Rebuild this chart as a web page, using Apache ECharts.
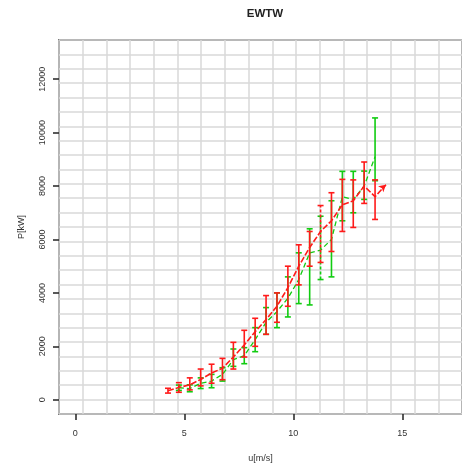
<!DOCTYPE html>
<html>
<head>
<meta charset="utf-8">
<script src="https://cdn.jsdelivr.net/npm/echarts@6/dist/echarts.min.js"></script>
<style>
html,body{margin:0;padding:0;background:#fff;}
#chart{width:462px;height:468px;}
</style>
</head>
<body>
<div id="chart"></div>
<script>
// ---- data ----
const titleText = 'EWTW';
const xName = 'u[m/s]';
const yName = 'P[kW]';
const xTicks = [0, 5, 10, 15];
const yTicks = [0, 2000, 4000, 6000, 8000, 10000, 12000];

const uRed = [4.25, 4.75, 5.25, 5.75, 6.25, 6.75, 7.25, 7.75, 8.25, 8.75, 9.25, 9.75, 10.25, 10.75, 11.25, 11.75, 12.25, 12.75, 13.25, 13.75, 14.25];
const redMean = [340, 460, 560, 760, 1000, 1180, 1600, 2050, 2550, 3000, 3500, 4200, 5000, 5700, 6300, 6700, 7300, 7450, 8000, 7600, 8050];
const redLow  = [250, 280, 370, 520, 620, 750, 1150, 1600, 2000, 2450, 2900, 3500, 4300, 5000, 5140, 5550, 6300, 6450, 7350, 6750, null];
const redHigh = [430, 640, 820, 1150, 1330, 1550, 2150, 2600, 3050, 3900, 4000, 5000, 5800, 6300, 7270, 7750, 8250, 8230, 8900, 8230, null];

const uGreen = [4.75, 5.25, 5.75, 6.25, 6.75, 7.25, 7.75, 8.25, 8.75, 9.25, 9.75, 10.25, 10.75, 11.25, 11.75, 12.25, 12.75, 13.25, 13.75];
const greenMean = [450, 420, 620, 700, 950, 1500, 1650, 2250, 2900, 3300, 3800, 4500, 5500, 5600, 6000, 7600, 7500, 8000, 9100];
const greenLow  = [350, 300, 420, 450, 700, 1250, 1350, 1800, 2450, 2700, 3100, 3600, 3550, 4500, 4600, 6700, 7000, 7500, 8200];
const greenHigh = [550, 560, 820, 950, 1200, 1900, 1950, 2700, 3450, 4000, 4600, 5500, 6400, 6870, 7450, 8550, 8550, 8560, 10550];

const dashedRed = [4.75, 11.25];
const dashedGreen = [11.25];

// ---- chart ----
const RED = '#ff1a1a';
const GREEN = '#11cc11';
const FONT = 'Liberation Sans';

function pairs(xs, ys) { return xs.map((x, i) => [x, ys[i]]); }
function bars(xs, lo, hi) {
  const out = [];
  xs.forEach((x, i) => { if (lo[i] != null && hi[i] != null) out.push([x, lo[i], hi[i]]); });
  return out;
}
function errRenderer(color, dashed) {
  return function (params, api) {
    const x = api.value(0), lo = api.value(1), hi = api.value(2);
    const a = api.coord([x, lo]), b = api.coord([x, hi]);
    const w = 3;
    const dash = dashed.indexOf(x) >= 0 ? [3, 2] : null;
    const st = { stroke: color, lineWidth: 1.6, lineDash: dash };
    return {
      type: 'group',
      children: [
        { type: 'line', shape: { x1: a[0], y1: a[1], x2: b[0], y2: b[1] }, style: st },
        { type: 'line', shape: { x1: a[0] - w, y1: a[1], x2: a[0] + w, y2: a[1] }, style: { stroke: color, lineWidth: 1.6 } },
        { type: 'line', shape: { x1: b[0] - w, y1: b[1], x2: b[0] + w, y2: b[1] }, style: { stroke: color, lineWidth: 1.6 } }
      ]
    };
  };
}

const redData = pairs(uRed, redMean).map((p, i, arr) =>
  i === arr.length - 1 ? { value: p, symbol: 'arrow', symbolSize: [6, 7], symbolRotate: -49 } : p);

const chart = echarts.init(document.getElementById('chart'), null, { renderer: 'canvas' });
chart.setOption({
  animation: false,
  backgroundColor: '#ffffff',
  textStyle: { fontFamily: FONT },
  grid: { left: 59, right: -9, top: 40, bottom: 53, show: true, borderColor: '#222', borderWidth: 1.6, backgroundColor: 'transparent' },
  graphic: [{
    type: 'text', x: 265, y: 14,
    style: { text: titleText, x: 0, y: 0, align: 'center', verticalAlign: 'middle', fill: '#222', font: 'bold 11.5px "Liberation Sans"' }
  }],
  xAxis: [{
    type: 'value', min: -0.749, max: 17.738, position: 'bottom',
    axisLine: { show: false, onZero: false },
    axisTick: { show: true, length: 6, lineStyle: { color: '#222', width: 1.5 }, customValues: xTicks },
    axisLabel: { customValues: xTicks, color: '#333', fontSize: 9, margin: 15, fontFamily: FONT, formatter: v => String(v) },
    splitLine: { show: false },
    name: xName, nameLocation: 'middle', nameGap: 40,
    nameTextStyle: { color: '#333', fontSize: 9, fontFamily: FONT }
  }, {
    type: 'value', min: 0, max: 17, interval: 1, position: 'bottom',
    axisLine: { show: false, onZero: false }, axisTick: { show: false }, axisLabel: { show: false },
    splitLine: { show: true, lineStyle: { color: '#d8d8d8', width: 1.5 } }
  }],
  yAxis: [{
    type: 'value', min: -533, max: 13467, position: 'left',
    axisLine: { show: false, onZero: false },
    axisTick: { show: true, length: 6, lineStyle: { color: '#222', width: 1.5 }, customValues: yTicks },
    axisLabel: { customValues: yTicks, color: '#333', fontSize: 9, margin: 12, rotate: 90, fontFamily: FONT, formatter: v => String(v) },
    splitLine: { show: false },
    name: yName, nameLocation: 'middle', nameGap: 33, nameRotate: 90,
    nameTextStyle: { color: '#333', fontSize: 9, fontFamily: FONT }
  }, {
    type: 'value', min: 0, max: 26, interval: 1, position: 'left',
    axisLine: { show: false, onZero: false }, axisTick: { show: false }, axisLabel: { show: false },
    splitLine: { show: true, lineStyle: { color: '#d8d8d8', width: 1.5 } }
  }],
  series: [
    {
      type: 'custom', xAxisIndex: 0, yAxisIndex: 0, z: 3,
      renderItem: errRenderer(GREEN, dashedGreen),
      encode: { x: 0, y: [1, 2] },
      data: bars(uGreen, greenLow, greenHigh)
    },
    {
      type: 'line', xAxisIndex: 0, yAxisIndex: 0, z: 4,
      data: pairs(uGreen, greenMean), symbol: 'none',
      lineStyle: { color: GREEN, width: 1.3, type: [5, 3] }
    },
    {
      type: 'custom', xAxisIndex: 0, yAxisIndex: 0, z: 5,
      renderItem: errRenderer(RED, dashedRed),
      encode: { x: 0, y: [1, 2] },
      data: bars(uRed, redLow, redHigh)
    },
    {
      type: 'line', xAxisIndex: 0, yAxisIndex: 0, z: 6,
      data: redData, symbol: 'none', showSymbol: true,
      itemStyle: { color: RED },
      lineStyle: { color: RED, width: 1.6, type: [6, 2] }
    }
  ]
});
</script>
</body>
</html>
